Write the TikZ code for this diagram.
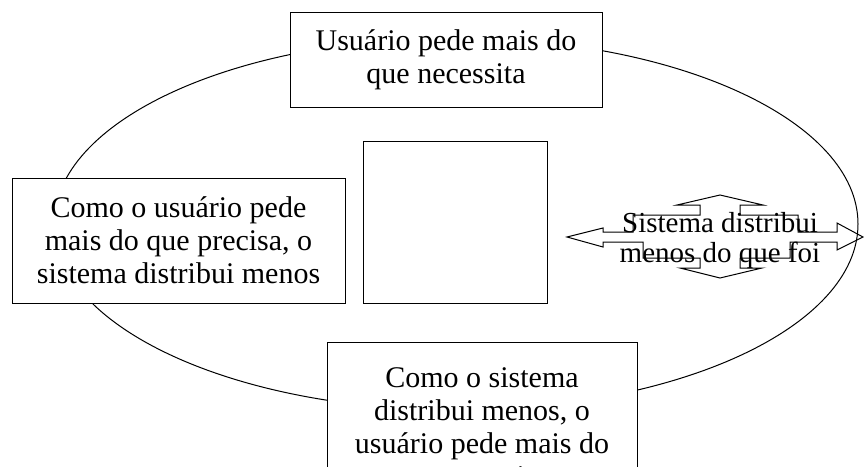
\documentclass[tikz,border=0pt]{standalone}
\usepackage{fontspec}
\setmainfont{Liberation Serif}
\usepackage{tikz}
\usetikzlibrary{calc}
\tikzset{
    caixa/.style={
        draw,
        line width=1pt,
        fill=white,
        inner sep=0pt,
        align=center,
        font=\fontsize{30}{33}\selectfont
    },
    setatexto/.style={
        inner sep=0pt,
        align=center,
        font=\fontsize{29}{30}\selectfont
    },
    contorno/.style={
        line width=1pt
    }
}
\begin{document}
\begin{tikzpicture}[x=1pt,y=-1pt]

    \useasboundingbox (0,0) rectangle (864,466);
    \clip (0,0) rectangle (864,466);

    %% ciclo
    \draw[contorno] (456,224) ellipse [x radius=402pt, y radius=186pt];

    \node (B1) [caixa,minimum width=312pt,minimum height=95pt] at (446,59.5)
        {Usuário pede mais do\\que necessita};

    \node (B2) [caixa,minimum width=333pt,minimum height=125pt] at (178.5,240.5)
        {Como o usuário pede\\mais do que precisa, o\\sistema distribui menos};

    \node (S) [caixa,minimum width=184pt,minimum height=162pt] at (455,222) {};

    \node (B3) [caixa,minimum width=310pt,minimum height=177pt] at (482,430.5)
        {Como o sistema\\distribui menos, o\\usuário pede mais do\\que precisa};

    %% seta de quatro pontas
    \draw[contorno] (567,237) -- (603,228) -- (603,232) -- (633,232) -- (633,215)
        -- (700,215) -- (700,205) -- (677,205) -- (720,195) -- (763,205)
        -- (740,205) -- (740,215) -- (798,215) -- (798,232) -- (837,232)
        -- (837,223) -- (863,237) -- (837,250) -- (837,242) -- (790,242)
        -- (790,258) -- (740,258) -- (740,268) -- (762,268) -- (720,278)
        -- (680,268) -- (700,268) -- (700,258) -- (643,258) -- (643,242)
        -- (603,242) -- (603,247) -- cycle;

    \node (A1) [setatexto] at (720,241) {Sistema distribui\\menos do que foi};

\end{tikzpicture}
\end{document}
